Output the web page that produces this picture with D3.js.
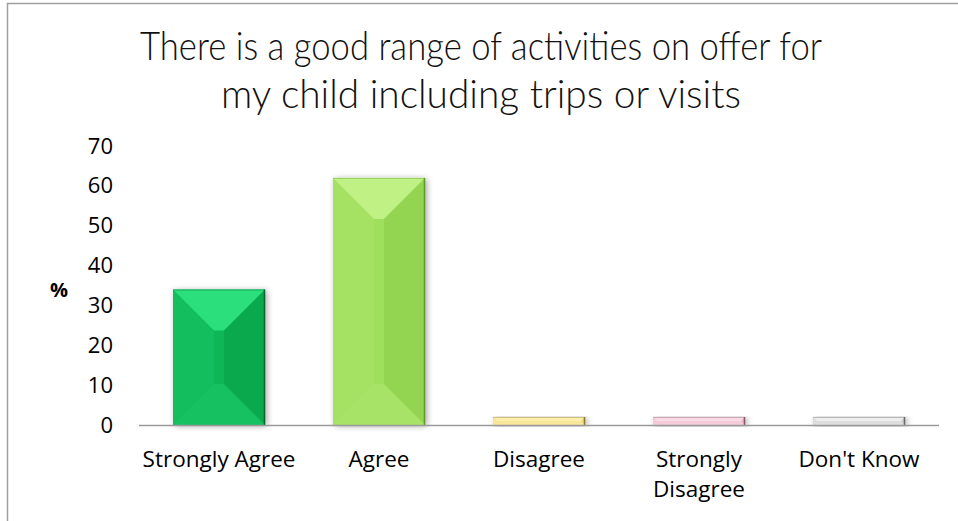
<!DOCTYPE html>
<html>
<head>
<meta charset="utf-8">
<script src="https://cdn.jsdelivr.net/npm/d3@7"></script>
<style>
html,body{margin:0;padding:0;background:#fff;}
svg{display:block;}
</style>
</head>
<body>
<svg id="chart" width="958" height="521"></svg>
<script>
const categories = ["Strongly Agree", "Agree", "Disagree", "Strongly Disagree", "Don't Know"];
const values = [34, 62, 2, 2, 2];
const yTicks = [0, 10, 20, 30, 40, 50, 60, 70];
const titleLines = ["There is a good range of activities on offer for", "my child including trips or visits"];
const barColors = [
  {base:"#0db757", light:"#36ec8a", dark:"#079a45", edge:"#06622c"},
  {base:"#9fdf5c", light:"#c9f793", dark:"#86c843", edge:"#5f9a2a"},
  {base:"#f6e48f", light:"#fdf3b8", dark:"#dcc86a", edge:"#8a7a30"},
  {base:"#f3c6d6", light:"#fde2ec", dark:"#d8a3b6", edge:"#8a5566"},
  {base:"#d9d9d9", light:"#f4f4f4", dark:"#bdbdbd", edge:"#6a6a6a"}
];

const svg = d3.select("#chart");
const defs = svg.append("defs");
const f = defs.append("filter").attr("id","shadow").attr("x","-20%").attr("y","-20%").attr("width","140%").attr("height","140%");
f.append("feGaussianBlur").attr("in","SourceAlpha").attr("stdDeviation",3);
f.append("feOffset").attr("dx",2).attr("dy",1).attr("result","b");
f.append("feComponentTransfer").append("feFuncA").attr("type","linear").attr("slope",0.35);
const fm = f.append("feMerge");
fm.append("feMergeNode");
fm.append("feMergeNode").attr("in","SourceGraphic");

// chart border (cropped)
svg.append("rect").attr("x",7.5).attr("y",3.5).attr("width",1000).attr("height",600)
  .attr("fill","none").attr("stroke","#a0a0a0").attr("stroke-width",1.5);

// title
svg.append("g").selectAll("text").data(titleLines).join("text")
  .attr("x",481).attr("y",(d,i)=>60+i*48)
  .attr("text-anchor","middle")
  .attr("font-family","Lato, 'DejaVu Sans', sans-serif")
  .attr("font-weight",300)
  .attr("font-size",39)
  .attr("fill","#111")
  .attr("textLength",(d,i)=>[682,520][i])
  .attr("lengthAdjust","spacingAndGlyphs")
  .text(d=>d);

const x = d3.scaleBand().domain(categories).range([139,939]).paddingInner(0.425).paddingOuter(0.2125);
const y = d3.scaleLinear().domain([0,70]).range([425,146]);

// y tick labels
const yAxis = d3.axisLeft(y).tickValues(yTicks).tickSize(0).tickPadding(0);
const ya = svg.append("g").attr("transform","translate(113,0)").call(yAxis);
ya.select(".domain").remove();
ya.selectAll("text").attr("font-family","'Open Sans', sans-serif").attr("font-size",22).attr("fill","#000");

// % label
svg.append("text").attr("x",59).attr("y",297).attr("text-anchor","middle")
  .attr("font-family","'Open Sans', sans-serif").attr("font-weight",700).attr("font-size",20).text("%");

// bars
const bars = svg.append("g").selectAll("g").data(values).join("g");
bars.each(function(v,i){
  const g = d3.select(this);
  const x0 = x(categories[i]), w = x.bandwidth();
  const y0 = y(v), h = y(0)-y(v);
  const c = barColors[i];
  const b = Math.min(41, w/2, h/2);
  g.append("rect").attr("x",x0).attr("y",y0).attr("width",w).attr("height",h)
    .attr("fill",c.base).attr("filter","url(#shadow)");
  const L=x0, R=x0+w, T=y0, B=y0+h;
  const poly = (pts,fill,op)=>g.append("polygon").attr("points",pts.map(p=>p.join(",")).join(" ")).attr("fill",fill).attr("opacity",op);
  poly([[L,T],[R,T],[R-b,T+b],[L+b,T+b]], c.light, 0.75);
  poly([[L,T],[L+b,T+b],[L+b,B-b],[L,B]], c.light, 0.15);
  poly([[R,T],[R,B],[R-b,B-b],[R-b,T+b]], c.dark, 0.45);
  poly([[L,B],[L+b,B-b],[R-b,B-b],[R,B]], c.light, 0.2);
  g.append("line").attr("x1",R-0.5).attr("x2",R-0.5).attr("y1",T).attr("y2",B).attr("stroke",c.edge).attr("stroke-width",1.5);
  g.append("line").attr("x1",L).attr("x2",R).attr("y1",T+0.5).attr("y2",T+0.5).attr("stroke",c.edge).attr("stroke-opacity",0.4).attr("stroke-width",1);
});

// x axis line
svg.append("line").attr("x1",139).attr("x2",939).attr("y1",425.5).attr("y2",425.5)
  .attr("stroke","#9a9a9a").attr("stroke-width",1.5);

// category labels
const xl = svg.append("g").selectAll("text").data(categories).join("text")
  .attr("x",d=>x(d)+x.bandwidth()/2).attr("y",467)
  .attr("text-anchor","middle")
  .attr("font-family","'Open Sans', sans-serif").attr("font-size",22.5).attr("fill","#000");
xl.each(function(d){
  const t = d3.select(this);
  const lines = d === "Strongly Disagree" ? ["Strongly","Disagree"] : [d];
  lines.forEach((s,k)=>t.append("tspan").attr("x",x(d)+x.bandwidth()/2).attr("dy",k?30:0).text(s));
});
</script>
</body>
</html>
